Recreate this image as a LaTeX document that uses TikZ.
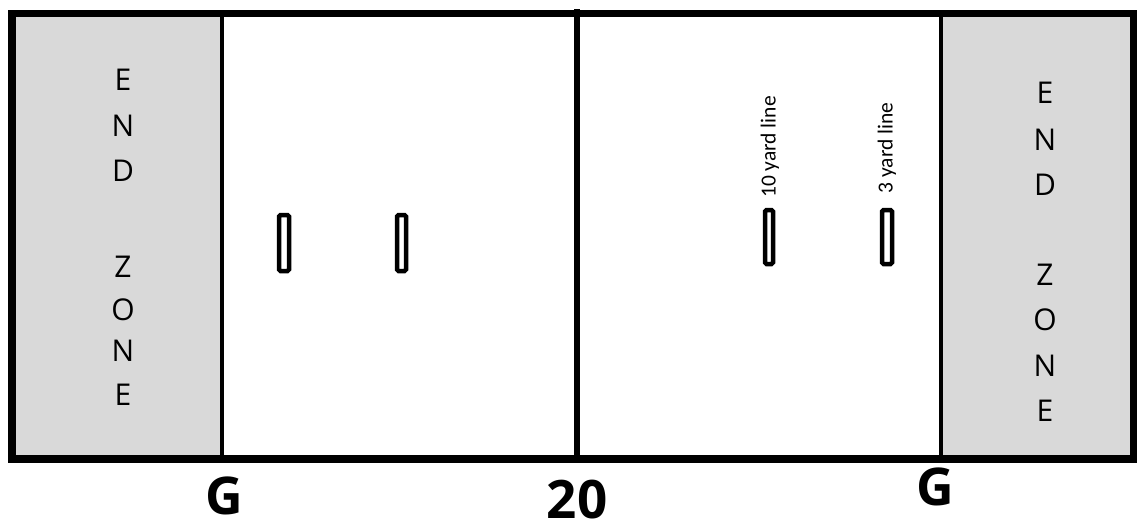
\documentclass[tikz,border=0pt]{standalone}
\usepackage{fontspec}
\setmainfont{Open Sans}
\newfontfamily\carl{Carlito}
\definecolor{zonegray}{HTML}{D9D9D9}
\tikzset{
  zoneletter/.style={inner sep=0pt, font=\fontsize{30}{30}\selectfont},
  goalmark/.style={inner sep=0pt, font=\fontsize{52}{52}\selectfont\bfseries},
  yardlabel/.style={inner sep=0pt, rotate=90, font=\carl\fontsize{21.5}{21.5}\selectfont},
  marker/.style={line width=4.5pt, rounded corners=1.5pt},
}
\begin{document}
\begin{tikzpicture}[x=1pt,y=-1pt]
\useasboundingbox (0,0) rectangle (1138,525);
% end zones
\fill[zonegray] (16,17) rectangle (220,455);
\fill[zonegray] (943,17) rectangle (1130,455);
% goal lines
\draw[line width=4pt] (222,16) -- (222,456);
\draw[line width=4pt] (941,16) -- (941,456);
% midfield line
\draw[line width=6pt] (576.5,9) -- (576.5,456);
% outer border
\draw[line width=7.5pt] (12,13.5) rectangle (1133.5,459);
% markers
\draw[marker] (279,215) rectangle (289,271);
\draw[marker] (397,215) rectangle (406,271);
\draw[marker] (765,210) rectangle (773,264);
\draw[marker] (882,210) rectangle (892,264);
% yard labels
\node[yardlabel] (ten) at (770,147) {10 yard line};
\node[yardlabel] (three) at (887,148) {3 yard line};
% left end zone letters
\node[zoneletter] (l1) at (123,80) {E};
\node[zoneletter] (l2) at (123,126) {N};
\node[zoneletter] (l3) at (123,171) {D};
\node[zoneletter] (l4) at (123,267) {Z};
\node[zoneletter] (l5) at (123,310) {O};
\node[zoneletter] (l6) at (123,351) {N};
\node[zoneletter] (l7) at (123,395) {E};
% right end zone letters
\node[zoneletter] (r1) at (1045,93) {E};
\node[zoneletter] (r2) at (1045,140) {N};
\node[zoneletter] (r3) at (1045,185) {D};
\node[zoneletter] (r4) at (1045,275) {Z};
\node[zoneletter] (r5) at (1045,320) {O};
\node[zoneletter] (r6) at (1045,366) {N};
\node[zoneletter] (r7) at (1045,411) {E};
% bottom labels
\node[goalmark] (gl) at (224,496) {G};
\node[goalmark, font=\fontsize{53}{53}\selectfont\bfseries] (mid) at (577,500) {20};
\node[goalmark] (gr) at (935,487) {G};
\end{tikzpicture}
\end{document}
